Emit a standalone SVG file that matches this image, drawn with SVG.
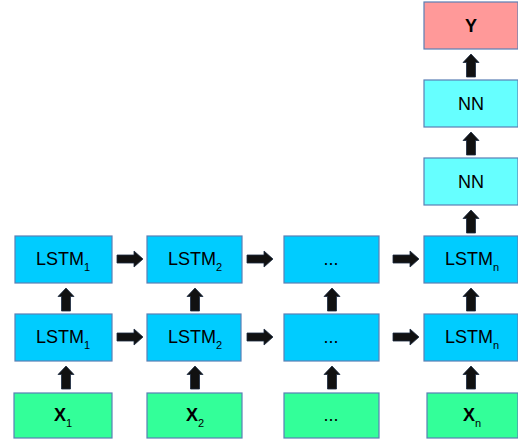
<svg xmlns="http://www.w3.org/2000/svg" width="518" height="441" viewBox="0 0 518 441">
<style>
rect{stroke:#5a7fb5;stroke-width:1.2}
.lstm{fill:#00ccff}
.nn{fill:#66ffff}
.y{fill:#ff9999}
.x{fill:#33ff99}
text{font-family:"Liberation Sans",Arial,sans-serif;font-size:18px;fill:#000;text-anchor:middle}
.b{font-weight:bold}
.sub{font-size:11px;font-weight:normal}
.arr{fill:#111;stroke:#1a2a40;stroke-width:0.8}
</style>
<defs>
<path id="up" d="M0,0 L-8,8.5 L-4.5,8.5 L-4.5,23 L4.5,23 L4.5,8.5 L8,8.5 Z"/>
<path id="rt" d="M0,0 L-9,-8 L-9,-4 L-26,-4 L-26,4 L-9,4 L-9,8 Z"/>
</defs>
<g id="connectors" class="arr">
<use href="#up" x="66" y="366"/>
<use href="#up" x="195" y="366"/>
<use href="#up" x="332" y="366"/>
<use href="#up" x="471" y="366"/>
<use href="#up" x="66" y="288"/>
<use href="#up" x="195" y="288"/>
<use href="#up" x="332" y="288"/>
<use href="#up" x="471" y="288"/>
<use href="#up" x="471" y="210"/>
<use href="#up" x="471" y="132"/>
<use href="#up" x="471" y="54"/>
<use href="#rt" x="143" y="259"/>
<use href="#rt" x="273" y="259"/>
<use href="#rt" x="419" y="259"/>
<use href="#rt" x="143" y="337"/>
<use href="#rt" x="273" y="337"/>
<use href="#rt" x="419" y="337"/>
</g>
<g id="y"><rect class="y" x="424" y="2" width="94" height="47"/><text class="b" x="471" y="32">Y</text></g>
<g id="nn2"><rect class="nn" x="424" y="80" width="94" height="47"/><text x="471" y="110">NN</text></g>
<g id="nn1"><rect class="nn" x="424" y="158" width="94" height="47"/><text x="471" y="188">NN</text></g>
<g id="lstm1-top"><rect class="lstm" x="15" y="236" width="97" height="47"/><text x="63" y="265">LSTM<tspan class="sub" dy="6">1</tspan></text></g>
<g id="lstm2-top"><rect class="lstm" x="147" y="236" width="95" height="47"/><text x="195" y="265">LSTM<tspan class="sub" dy="6">2</tspan></text></g>
<g id="dots-top"><rect class="lstm" x="284" y="236" width="95" height="47"/><text x="331" y="265">...</text></g>
<g id="lstmn-top"><rect class="lstm" x="424" y="236" width="94" height="47"/><text x="472" y="265">LSTM<tspan class="sub" dy="6">n</tspan></text></g>
<g id="lstm1-mid"><rect class="lstm" x="15" y="314" width="97" height="47"/><text x="63" y="343">LSTM<tspan class="sub" dy="6">1</tspan></text></g>
<g id="lstm2-mid"><rect class="lstm" x="147" y="314" width="94" height="47"/><text x="195" y="343">LSTM<tspan class="sub" dy="6">2</tspan></text></g>
<g id="dots-mid"><rect class="lstm" x="284" y="314" width="95" height="47"/><text x="331" y="343">...</text></g>
<g id="lstmn-mid"><rect class="lstm" x="424" y="314" width="94" height="47"/><text x="472" y="343">LSTM<tspan class="sub" dy="6">n</tspan></text></g>
<g id="x1"><rect class="x" x="14" y="393" width="98" height="45"/><text class="b" x="63" y="421">X<tspan class="sub" dy="6">1</tspan></text></g>
<g id="x2"><rect class="x" x="147" y="393" width="95" height="45"/><text class="b" x="195" y="421">X<tspan class="sub" dy="6">2</tspan></text></g>
<g id="xdots"><rect class="x" x="284" y="393" width="95" height="45"/><text x="331" y="421">...</text></g>
<g id="xn"><rect class="x" x="427" y="393" width="91" height="45"/><text class="b" x="472" y="421">X<tspan class="sub" dy="6">n</tspan></text></g>
</svg>
